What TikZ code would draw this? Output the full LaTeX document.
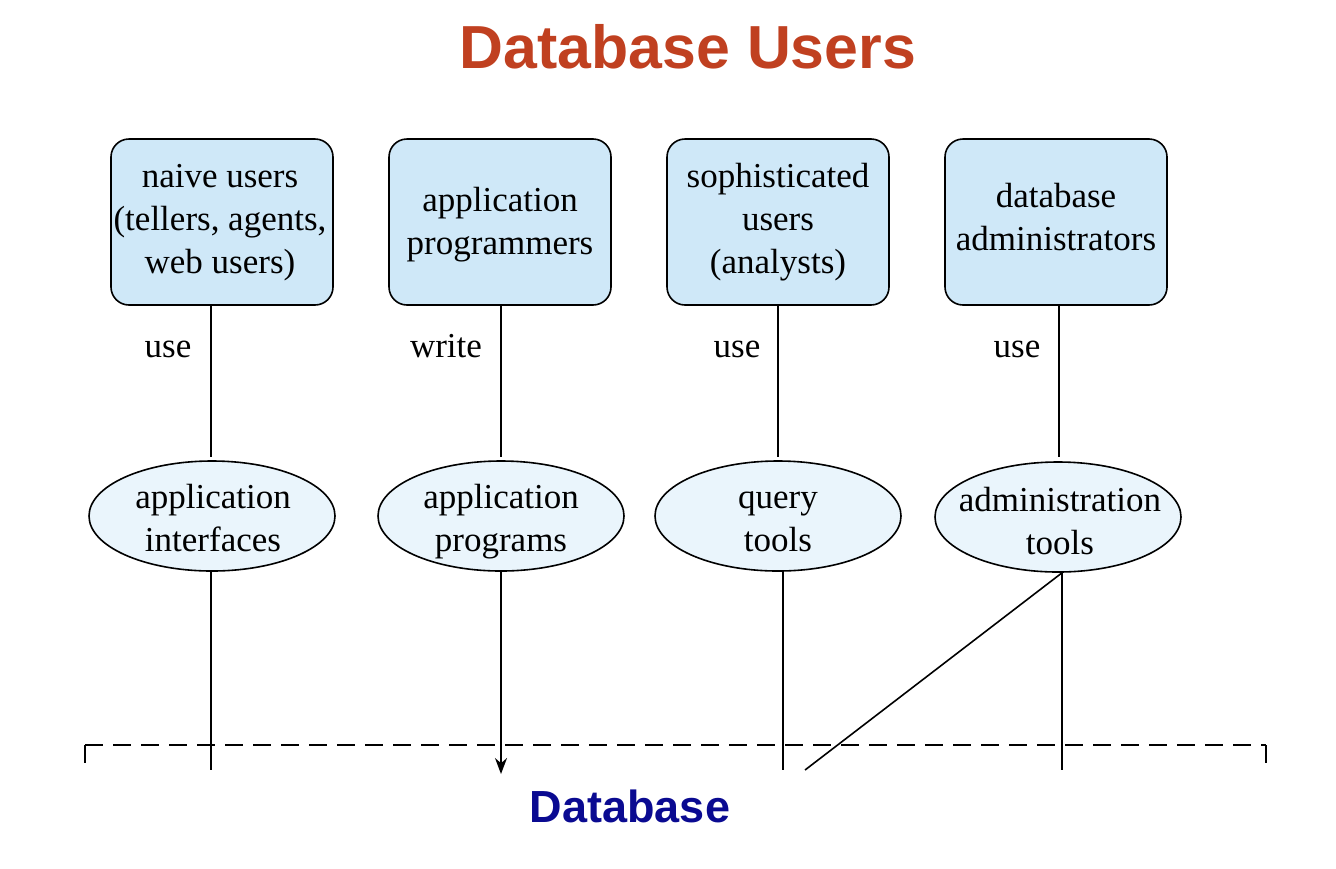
\documentclass[tikz,border=0pt]{standalone}
\usepackage{fontspec}
\setmainfont{Liberation Serif}
\newfontfamily\headfont{Liberation Sans}
\usetikzlibrary{shapes.geometric,arrows.meta}
\definecolor{titlered}{RGB}{192,64,32}
\definecolor{dbblue}{RGB}{10,10,145}
\definecolor{boxfill}{RGB}{207,232,248}
\definecolor{ellfill}{RGB}{234,245,252}
\tikzset{
  userbox/.style={draw, line width=0.8pt, rounded corners=9pt, fill=boxfill,
    minimum width=111pt, minimum height=83pt, inner sep=0pt},
  toolell/.style={draw, ellipse, line width=0.8pt, fill=ellfill,
    minimum width=123pt, minimum height=55pt, inner sep=0pt},
  txt/.style={align=center, inner sep=0pt,
    font=\fontsize{17.5}{21.5}\selectfont},
  lbl/.style={font=\fontsize{17.5}{21.5}\selectfont, inner sep=0pt, anchor=base},
  conn/.style={line width=0.8pt},
  dashln/.style={line width=1pt, dash pattern=on 9pt off 5pt},
}
\begin{document}
\begin{tikzpicture}[x=0.5pt,y=-0.5pt]
\useasboundingbox (0,0) rectangle (1336,868);
\node[font=\headfont\bfseries\fontsize{30.4}{34}\selectfont, text=titlered] (title) at (688,47) {Database Users};

\node[userbox] (b1) at (222,222) {};
\node[userbox] (b2) at (500,222) {};
\node[userbox] (b3) at (778,222) {};
\node[userbox] (b4) at (1056,222) {};
\node[txt] (t1) at (220,222) {\strut naive users\\(tellers, agents,\\web users)\strut};
\node[txt] (t2) at (500,224) {\strut application\\programmers\strut};
\node[txt] (t3) at (778,222) {\strut sophisticated\\users\\(analysts)\strut};
\node[txt] (t4) at (1056,220) {\strut database\\administrators\strut};

\node[lbl] (l1) at (168,357) {use};
\node[lbl] (l2) at (446,357) {write};
\node[lbl] (l3) at (737,357) {use};
\node[lbl] (l4) at (1017,357) {use};

\node[toolell] (e1) at (212,516) {};
\node[toolell] (e2) at (501,516) {};
\node[toolell] (e3) at (778,516) {};
\node[toolell] (e4) at (1058,517) {};
\node[txt] (s1) at (213,521) {\strut application\\interfaces\strut};
\node[txt] (s2) at (501,521) {\strut application\\programs\strut};
\node[txt] (s3) at (778,521) {\strut query\\tools\strut};
\node[txt] (s4) at (1060,524) {\strut administration\\tools\strut};

\coordinate (u1) at (211,457);
\coordinate (u2) at (501,457);
\coordinate (u3) at (778,457);
\coordinate (u4) at (1059,457);
\draw[conn] (b1.south -| u1) -- (u1);
\draw[conn] (b2.south -| u2) -- (u2);
\draw[conn] (b3.south -| u3) -- (u3);
\draw[conn] (b4.south -| u4) -- (u4);

\coordinate (d1) at (211,770);
\coordinate (d2) at (501,774);
\coordinate (d3) at (783,770);
\coordinate (d4) at (1062,770);
\coordinate (d5) at (805,770);
\draw[conn] (e1.south -| d1) -- (d1);
\draw[conn, -{Stealth[length=8pt,width=6pt]}] (e2.south -| d2) -- (d2);
\draw[conn] (e3.south -| d3) -- (d3);
\draw[conn] (e4.south -| d4) -- (d4);
\draw[conn] (e4.south -| d4) -- (d5);

\coordinate (dtl) at (85,745);
\coordinate (dtr) at (1266,745);
\coordinate (dl) at (85,770);
\coordinate (dr) at (1266,770);
\draw[dashln] (dtl) -- (dl);
\draw[dashln] (dtl) -- (dtr);
\draw[dashln] (dtr) -- (dr);

\node[font=\headfont\bfseries\fontsize{22.5}{26}\selectfont, text=dbblue] (db) at (630,806) {Database};
\end{tikzpicture}
\end{document}
